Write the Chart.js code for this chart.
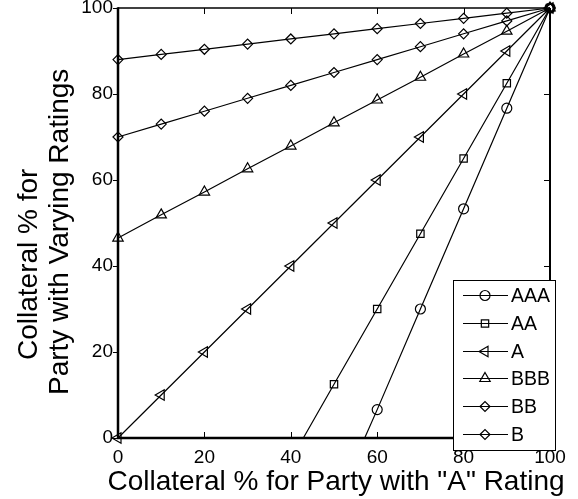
<!DOCTYPE html>
<html>
<head>
<meta charset="utf-8">
<title>Collateral % chart</title>
<script src="https://cdn.jsdelivr.net/npm/chart.js@4.4.1/dist/chart.umd.min.js"></script>
<style>
    html, body { margin: 0; padding: 0; background: #fff; }
    #wrap { width: 578px; height: 499px; }
</style>
</head>
<body>
<div id="wrap"><canvas id="collateralChart" width="578" height="499"></canvas></div>
<script>
// ---- data ----
const seriesNames = ['AAA', 'AA', 'A', 'BBB', 'BB', 'B'];

const gridX = [0, 10, 20, 30, 40, 50, 60, 70, 80, 90, 100];

const aaaX = [57.1, 60, 70, 80, 90, 100];
const aaaY = [0, 6.6, 30, 53.3, 76.7, 100];

const aaX = [42.9, 50, 60, 70, 80, 90, 100];
const aaY = [0, 12.5, 30, 47.5, 65, 82.5, 100];

const aY = [0, 10, 20, 30, 40, 50, 60, 70, 80, 90, 100];
const bbbY = [46.5, 51.9, 57.2, 62.6, 67.9, 73.3, 78.6, 83.9, 89.3, 94.6, 100];
const bbY = [70, 73, 76, 79, 82, 85, 88, 91, 94, 97, 100];
const bY = [88, 89.2, 90.4, 91.6, 92.8, 94, 95.2, 96.4, 97.6, 98.8, 100];

const xTickValues = [0, 20, 40, 60, 80, 100];
const yTickValues = [0, 20, 40, 60, 80, 100];

const xTitle = 'Collateral % for Party with "A" Rating';
const yTitleLines = ['Collateral % for', 'Party with Varying Ratings'];

(function() {
    'use strict';

    const FONT = "'Liberation Sans', Arial, Helvetica, sans-serif";

    const markers = {
        AAA: { pointStyle: 'circle', radius: 5, rotation: 0 },
        AA:  { pointStyle: 'rect', radius: 5.2, rotation: 0 },
        A:   { pointStyle: 'triangle', radius: 6, rotation: -90 },
        BBB: { pointStyle: 'triangle', radius: 6, rotation: 0 },
        BB:  { pointStyle: 'rectRot', radius: 5, rotation: 0 },
        B:   { pointStyle: 'rectRot', radius: 5, rotation: 0 }
    };

    function pairs(xs, ys) {
        return xs.map(function(x, i) { return { x: x, y: ys[i] }; });
    }

    const seriesData = {
        AAA: pairs(aaaX, aaaY),
        AA: pairs(aaX, aaY),
        A: pairs(gridX, aY),
        BBB: pairs(gridX, bbbY),
        BB: pairs(gridX, bbY),
        B: pairs(gridX, bY)
    };

    function makeDataset(name) {
        const m = markers[name];
        return {
            label: name,
            data: seriesData[name],
            borderColor: '#000',
            borderWidth: 1.2,
            backgroundColor: 'transparent',
            pointStyle: m.pointStyle,
            pointRotation: m.rotation,
            pointBorderColor: '#000',
            pointBorderWidth: 1.2,
            pointBackgroundColor: 'transparent',
            // markers only on the 10-step grid, not at the axis crossing
            pointRadius: function(ctx) {
                const raw = ctx.raw;
                return raw && raw.x % 10 === 0 ? m.radius : 0;
            },
            pointHoverRadius: 0,
            tension: 0,
            clip: false
        };
    }

    // box, inward/outward ticks, axis titles
    const framePlugin = {
        id: 'frame',
        afterDatasetsDraw: function(chart) {
            const ctx = chart.ctx;
            const a = chart.chartArea;
            const xs = chart.scales.x;
            const ys = chart.scales.y;
            ctx.save();
            ctx.strokeStyle = '#000';

            ctx.lineWidth = 1;
            xTickValues.forEach(function(v) {
                const px = Math.round(xs.getPixelForValue(v)) + 0.5;
                ctx.beginPath();
                ctx.moveTo(px, a.bottom); ctx.lineTo(px, a.bottom - 6);
                ctx.moveTo(px, a.top); ctx.lineTo(px, a.top + 6);
                ctx.stroke();
            });
            yTickValues.forEach(function(v) {
                const py = Math.round(ys.getPixelForValue(v)) + 0.5;
                ctx.beginPath();
                ctx.moveTo(a.left, py); ctx.lineTo(a.left - 5, py);
                ctx.moveTo(a.right, py); ctx.lineTo(a.right - 6, py);
                ctx.stroke();
            });

            ctx.lineWidth = 1.5;
            ctx.beginPath();
            ctx.moveTo(a.left, a.top); ctx.lineTo(a.right, a.top);
            ctx.stroke();
            ctx.lineWidth = 2;
            ctx.beginPath();
            ctx.moveTo(a.right, a.top); ctx.lineTo(a.right, a.bottom);
            ctx.stroke();
            ctx.lineWidth = 2.5;
            ctx.beginPath();
            ctx.moveTo(a.left, a.top - 0.75); ctx.lineTo(a.left, a.bottom);
            ctx.lineTo(a.right + 1, a.bottom);
            ctx.stroke();

            ctx.fillStyle = '#000';
            ctx.font = '28px ' + FONT;
            ctx.textAlign = 'center';
            ctx.textBaseline = 'alphabetic';
            ctx.fillText(xTitle, 336, 490);

            ctx.textAlign = 'left';
            const starts = [[37, 360], [68, 395]];
            yTitleLines.forEach(function(line, i) {
                ctx.save();
                ctx.translate(starts[i][0], starts[i][1]);
                ctx.rotate(-Math.PI / 2);
                ctx.fillText(line, 0, 0);
                ctx.restore();
            });
            ctx.restore();
        }
    };

    // MATLAB-like boxed legend in the lower right
    const legendPlugin = {
        id: 'boxLegend',
        afterDraw: function(chart) {
            const ctx = chart.ctx;
            const box = { left: 453.5, top: 280.5, width: 102, height: 170 };
            ctx.save();
            ctx.fillStyle = '#fff';
            ctx.fillRect(box.left, box.top, box.width, box.height);
            ctx.strokeStyle = '#000';
            ctx.lineWidth = 1;
            ctx.strokeRect(box.left, box.top, box.width, box.height);

            ctx.font = '19.5px ' + FONT;
            ctx.textAlign = 'left';
            ctx.textBaseline = 'middle';
            seriesNames.forEach(function(name, i) {
                const y = Math.round(295 + i * 27.8) + 0.5;
                const m = markers[name];
                ctx.strokeStyle = '#000';
                ctx.lineWidth = 1.2;
                ctx.beginPath();
                ctx.moveTo(463, y); ctx.lineTo(508, y);
                ctx.stroke();
                ctx.fillStyle = 'rgba(0,0,0,0)';
                Chart.helpers.drawPoint(ctx, {
                    pointStyle: m.pointStyle,
                    radius: m.radius,
                    rotation: m.rotation,
                    borderWidth: 1.2
                }, 485, y);
                ctx.fillStyle = '#000';
                ctx.fillText(name, 511, y + 1);
            });
            ctx.restore();
        }
    };

    document.addEventListener('DOMContentLoaded', function() {
        const canvas = document.getElementById('collateralChart');
        const ctx = canvas.getContext('2d');

        new Chart(ctx, {
            type: 'line',
            data: { datasets: seriesNames.map(makeDataset) },
            options: {
                responsive: false,
                animation: false,
                events: [],
                layout: { padding: { top: 8, right: 28, left: 0, bottom: 0 } },
                plugins: {
                    legend: { display: false },
                    tooltip: { enabled: false }
                },
                scales: {
                    x: {
                        type: 'linear',
                        min: 0,
                        max: 100,
                        afterBuildTicks: function(scale) {
                            scale.ticks = xTickValues.map(function(v) { return { value: v }; });
                        },
                        afterFit: function(scale) {
                            scale.height = 61;
                            scale.paddingLeft = 0;
                            scale.paddingRight = 0;
                        },
                        grid: { display: false, drawTicks: false },
                        border: { display: false },
                        ticks: {
                            color: '#000',
                            font: { family: FONT, size: 19 },
                            padding: 8,
                            maxRotation: 0,
                            autoSkip: false
                        }
                    },
                    y: {
                        type: 'linear',
                        min: 0,
                        max: 100,
                        afterBuildTicks: function(scale) {
                            scale.ticks = yTickValues.map(function(v) { return { value: v }; });
                        },
                        afterFit: function(scale) {
                            scale.width = 118;
                            scale.paddingTop = 0;
                            scale.paddingBottom = 0;
                        },
                        grid: { display: false, drawTicks: false },
                        border: { display: false },
                        ticks: {
                            color: '#000',
                            font: { family: FONT, size: 19 },
                            padding: 5,
                            autoSkip: false
                        }
                    }
                }
            },
            plugins: [framePlugin, legendPlugin]
        });
    });
})();
</script>
</body>
</html>
